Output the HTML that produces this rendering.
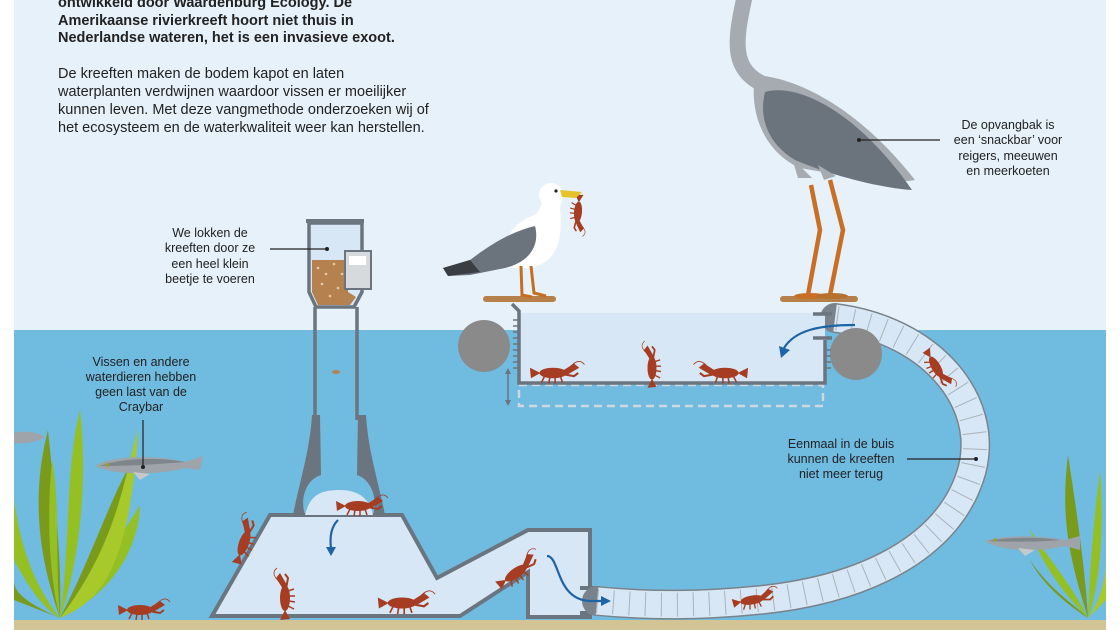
<!DOCTYPE html>
<html><head><meta charset="utf-8"><style>
html,body{margin:0;padding:0;background:#fff}
svg{display:block}
text{font-family:"Liberation Sans",sans-serif;fill:#222}
.l{font-size:12.5px;text-anchor:middle}
</style></head><body>
<svg width="1120" height="630" viewBox="0 0 1120 630" xmlns="http://www.w3.org/2000/svg">
<defs>
<g id="cr" fill="#a63d22" stroke="#a63d22">
<ellipse cx="0" cy="0" rx="13" ry="5" stroke="none"/>
<path d="M-12,0 L-22,-5 L-21,5Z" stroke="none"/>
<path d="M9,-2 L20,-9 L25,-5 L13,2Z" stroke="none"/>
<path d="M9,1 L20,3 L24,0" fill="none" stroke-width="2"/>
<path d="M-8,3 L-11,9 M-3,4 L-4,10 M2,4 L2,10 M7,3 L9,9" fill="none" stroke-width="1.5"/>
<path d="M14,-3 Q24,-16 30,-8" fill="none" stroke-width="0.8"/>
</g>
</defs>
<rect x="14" y="0" width="1092" height="630" fill="#e6f1fa"/>
<rect x="14" y="330" width="1092" height="292" fill="#70bbe0"/>
<rect x="14" y="620" width="1092" height="10" fill="#d3c495"/>

<g font-size="14.5px">
<text x="58" y="7" font-weight="bold">ontwikkeld door Waardenburg Ecology. De</text>
<text x="58" y="25" font-weight="bold">Amerikaanse rivierkreeft hoort niet thuis in</text>
<text x="58" y="42" font-weight="bold">Nederlandse wateren, het is een invasieve exoot.</text>
<text x="58" y="78">De kreeften maken de bodem kapot en laten</text>
<text x="58" y="96">waterplanten verdwijnen waardoor vissen er moeilijker</text>
<text x="58" y="114">kunnen leven. Met deze vangmethode onderzoeken wij of</text>
<text x="58" y="132">het ecosysteem en de waterkwaliteit weer kan herstellen.</text>
</g>

<g>
<path d="M60,618 C40,560 30,500 48,430 C55,500 62,560 60,618Z" fill="#7a9a1c"/>
<path d="M60,618 C70,550 65,470 80,410 C88,480 80,560 60,618Z" fill="#94c024"/>
<path d="M60,618 C90,560 110,500 130,465 C125,520 100,580 60,618Z" fill="#7a9a1c"/>
<path d="M60,618 C100,570 125,530 140,505 C138,560 100,600 60,618Z" fill="#94c024"/>
<path d="M60,618 C30,580 20,540 14,500 L14,560 C30,590 45,610 60,618Z" fill="#94c024"/>
<path d="M60,618 C55,560 60,500 52,460 C46,520 50,580 60,618Z" fill="#94c024"/>
<path d="M60,618 C105,600 130,560 138,430 C125,470 120,540 60,618Z" fill="#a7c92a"/>
<path d="M60,618 C20,600 14,590 14,580 L14,600Z" fill="#7a9a1c"/>
</g>
<g>
<path d="M1088,618 C1070,560 1060,520 1068,455 C1078,520 1085,570 1088,618Z" fill="#7a9a1c"/>
<path d="M1088,618 C1090,560 1095,510 1100,470 C1105,540 1098,590 1088,618Z" fill="#94c024"/>
<path d="M1088,618 C1060,590 1040,560 1030,530 C1050,560 1075,590 1088,618Z" fill="#94c024"/>
<path d="M1088,618 C1060,600 1040,580 1030,560 C1050,590 1075,605 1088,618Z" fill="#7a9a1c"/>
<path d="M1088,618 C1100,600 1106,580 1106,560 L1106,600Z" fill="#a7c92a"/>
</g>

<g>
<path d="M95,466 C110,455 160,455 185,462 L203,456 L200,470 L185,468 C160,475 115,476 95,466Z" fill="#9ea4a9"/>
<path d="M100,466 C120,458 160,457 185,462 C160,464 130,466 100,466Z" fill="#7e858b"/>
<circle cx="107" cy="465" r="1.8" fill="#8da52a"/>
<path d="M133,472 L140,480 L150,474Z" fill="#c5c9cc"/>
<path d="M14,433 C25,430 38,432 45,437 C38,442 25,444 14,443Z" fill="#9ea4a9"/>
<path d="M985,541 C1000,535 1040,535 1065,540 L1080,536 L1080,550 L1065,546 C1040,552 1000,552 985,541Z" fill="#9ea4a9"/>
<path d="M988,541 C1010,537 1040,537 1060,540 C1040,542 1010,542 988,541Z" fill="#7e858b"/>
<circle cx="995" cy="540" r="1.6" fill="#8da52a"/>
<path d="M1018,548 L1025,556 L1035,550Z" fill="#c5c9cc"/>
</g>

<g stroke="#6b7580" stroke-width="3.5" fill="none">
<path d="M309,223 L309,292 L316,307 L354,307 L362,292 L362,223Z" fill="#d8e7f5"/>
<line x1="306" y1="221" x2="364" y2="221" stroke-width="4"/>
<path d="M315,307 L315,420 M357,307 L357,420"/>
</g>
<path d="M312,260 L348,260 L348,292 L356,297 L350,305 L318,305 L312,292Z" fill="#b5814f"/>
<g fill="#e3c9a5"><circle cx="318" cy="268" r="1.3"/><circle cx="326" cy="274" r="1.3"/><circle cx="334" cy="264" r="1.3"/><circle cx="322" cy="284" r="1.3"/><circle cx="338" cy="288" r="1.3"/><circle cx="330" cy="296" r="1.3"/><circle cx="342" cy="274" r="1.3"/></g>
<rect x="345" y="251" width="26" height="38" fill="#d6dadd" stroke="#6b7580" stroke-width="2"/>
<rect x="349" y="256" width="17" height="9" fill="#fff"/>
<ellipse cx="336" cy="372" rx="4" ry="2" fill="#b5814f"/>
<path d="M312,415 L320,415 L321,475 C305,480 300,500 305,515 L293,515 C300,480 310,450 312,415Z" fill="#6b7580"/>
<path d="M358,415 L366,415 C368,450 378,480 385,515 L373,515 C378,500 372,480 357,475Z" fill="#6b7580"/>

<path d="M212,616 L460,616 L528,572 L528,617 L590,617 L590,530 L528,530 L437,578 L402,515 L270,515Z" fill="#d8e7f5" stroke="#6b7580" stroke-width="4"/>
<path d="M305,515 C310,495 320,490 340,490 C360,490 370,500 373,515" fill="#d8e7f5" stroke="none"/>
<g stroke="#6b7580" stroke-width="4"><line x1="580" y1="588" x2="600" y2="588"/><line x1="580" y1="613" x2="600" y2="613"/></g>

<path d="M597,601 C650,606 700,606 760,600 C860,590 950,550 972,470 C990,400 930,330 835,318" fill="none" stroke="#7a838b" stroke-width="30" stroke-linecap="round"/>
<path d="M597,601 C650,606 700,606 760,600 C860,590 950,550 972,470 C990,400 930,330 835,318" fill="none" stroke="#d8e7f5" stroke-width="27"/>
<path d="M597,601 C650,606 700,606 760,600 C860,590 950,550 972,470 C990,400 930,330 835,318" fill="none" stroke="#aab2b9" stroke-width="24" stroke-dasharray="1 15"/>

<rect x="519" y="385" width="304" height="21" fill="none" stroke="#cfd8df" stroke-width="2.5" stroke-dasharray="8 5"/>
<circle cx="484" cy="346" r="26" fill="#8a8a8a"/>
<circle cx="856" cy="354" r="26" fill="#8a8a8a"/>
<path d="M519,313 L825,313 L825,382 L519,382Z" fill="#d8e7f5"/>
<path d="M512,304 L519,311 L519,383 L825,383 L825,340" fill="none" stroke="#6b7580" stroke-width="3.5"/>
<path d="M813,314 L832,314 M813,338 L832,338" stroke="#6b7580" stroke-width="3.5"/>
<g stroke="#6b7580" stroke-width="1.5"><path d="M513,320 h5 M513,326 h5 M513,332 h5 M513,338 h5 M513,344 h5 M513,350 h5 M513,356 h5 M513,362 h5 M513,368 h5 M826,350 h5 M826,356 h5 M826,362 h5 M826,368 h5"/></g>
<path d="M508,370 L508,404" stroke="#6b7580" stroke-width="1.5"/>
<path d="M505,374 L508,368 L511,374Z M505,400 L508,406 L511,400Z" fill="#6b7580"/>

<rect x="483" y="296" width="73" height="6" rx="3" fill="#b5804a"/>
<rect x="780" y="296" width="78" height="6" rx="3" fill="#b5804a"/>

<g fill="none" stroke="#1d64a6" stroke-width="2.2">
<path d="M855,325 C820,325 795,330 784,348"/>
<path d="M338,520 C330,528 330,540 331,548"/>
<path d="M547,556 C560,556 556,600 590,601 L603,601"/>
</g>
<g fill="#1d64a6">
<path d="M779,346 L790,350 L781,358Z"/>
<path d="M326,547 L336,547 L331,556Z"/>
<path d="M601,596 L611,601 L601,606Z"/>
</g>

<use href="#cr" transform="translate(553,373) scale(1.05)"/>
<use href="#cr" transform="translate(652,368) rotate(-90) scale(0.9)"/>
<use href="#cr" transform="translate(725,373) scale(-1.05,1.05)"/>
<use href="#cr" transform="translate(358,506)"/>
<use href="#cr" transform="translate(244,543) rotate(-70)"/>
<use href="#cr" transform="translate(285,598) rotate(-90)"/>
<use href="#cr" transform="translate(402,603) scale(1.1)"/>
<use href="#cr" transform="translate(516,573) rotate(-35)"/>
<use href="#cr" transform="translate(140,610)"/>
<use href="#cr" transform="translate(936,367) rotate(60) scale(0.9)"/>
<use href="#cr" transform="translate(752,600) rotate(-10) scale(0.9)"/>
<use href="#cr" transform="translate(578,212) rotate(95) scale(0.8)"/>

<path d="M505,268 C498,245 512,222 535,215 C545,205 540,195 548,188 C560,183 565,193 560,208 C563,240 558,262 530,268Z" fill="#fff"/>
<circle cx="551" cy="195" r="12" fill="#fff"/>
<circle cx="556" cy="191" r="1.6" fill="#222"/>
<path d="M560,190 L582,192 L576,198 L562,197Z" fill="#e6c22a"/>
<path d="M443,268 L470,260 C490,245 510,232 535,226 C540,245 530,262 505,268 L470,275 L448,276Z" fill="#6b737d"/>
<path d="M443,268 L470,260 L480,272 L448,276Z" fill="#3a3d42"/>
<path d="M521,266 L522,295 L532,297 M531,266 L534,293 L546,296" fill="none" stroke="#c56e20" stroke-width="3"/>

<path d="M745,-5 C735,40 730,70 765,85" fill="none" stroke="#a6abb1" stroke-width="16" stroke-linecap="round"/>
<path d="M755,75 C800,78 860,110 915,180 C890,185 840,175 800,168 C770,155 748,120 755,75Z" fill="#a6abb1"/>
<path d="M765,92 C800,82 860,115 912,190 C880,188 830,175 795,160 C770,145 758,120 765,92Z" fill="#6b737d"/>
<path d="M792,158 L798,178 L812,178 Z M818,165 L824,180 L836,176Z" fill="#a6abb1"/>
<g fill="none" stroke="#c86f25" stroke-width="4.5" stroke-linejoin="round">
<path d="M811,185 L820,230 L808,295"/>
<path d="M830,180 L843,230 L830,295"/>
</g>
<ellipse cx="810" cy="296" rx="16" ry="3" fill="#c86f25"/>
<ellipse cx="832" cy="296" rx="16" ry="3" fill="#b5712e"/>

<g>
<text class="l" x="210" y="237">We lokken de</text>
<text class="l" x="210" y="252">kreeften door ze</text>
<text class="l" x="210" y="268">een heel klein</text>
<text class="l" x="210" y="283">beetje te voeren</text>
<text class="l" x="141" y="366">Vissen en andere</text>
<text class="l" x="141" y="381">waterdieren hebben</text>
<text class="l" x="141" y="396">geen last van de</text>
<text class="l" x="141" y="411">Craybar</text>
<text class="l" x="1008" y="129">De opvangbak is</text>
<text class="l" x="1008" y="144">een ‘snackbar’ voor</text>
<text class="l" x="1008" y="160">reigers, meeuwen</text>
<text class="l" x="1008" y="175">en meerkoeten</text>
<text class="l" x="841" y="448">Eenmaal in de buis</text>
<text class="l" x="841" y="463">kunnen de kreeften</text>
<text class="l" x="841" y="478">niet meer terug</text>
</g>
<g stroke="#222" stroke-width="1.2">
<line x1="270" y1="249" x2="327" y2="249"/>
<line x1="143" y1="420" x2="143" y2="467"/>
<line x1="859" y1="140" x2="940" y2="140"/>
<line x1="907" y1="459" x2="976" y2="459"/>
</g>
<g fill="#222"><circle cx="327" cy="249" r="2"/><circle cx="143" cy="467" r="2"/><circle cx="859" cy="140" r="2"/><circle cx="976" cy="459" r="2"/></g>
</svg>
</body></html>
